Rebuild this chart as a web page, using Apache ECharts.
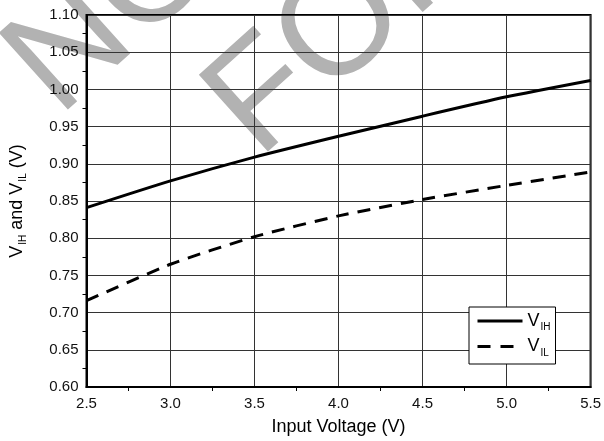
<!DOCTYPE html>
<html>
<head>
<meta charset="utf-8">
<script src="https://cdn.jsdelivr.net/npm/echarts@6/dist/echarts.min.js"></script>
<style>
  html, body { margin: 0; padding: 0; background: #fff; }
  #main { width: 604px; height: 441px; }
</style>
</head>
<body>
<div id="main"></div>
<script>
// input voltage (V)
var vin = [2.5, 3.0, 3.5, 4.0, 4.5, 5.0, 5.5];
// threshold levels (V)
var vih = [0.841, 0.877, 0.909, 0.937, 0.964, 0.990, 1.012];
var vil = [0.716, 0.765, 0.802, 0.830, 0.852, 0.871, 0.889];
var seriesNames = ['VIH', 'VIL'];
var subs = { VIH: 'IH', VIL: 'IL' };

var FONT = '"Liberation Sans", Arial, sans-serif';
var WM_ANGLE = 42 * Math.PI / 180;

function zip(xs, ys) {
	var out = [];
	for (var i = 0; i < xs.length; i++) out.push([xs[i], ys[i]]);
	return out;
}

window.onload = () => {
	var myChart = echarts.init(document.getElementById('main'));

	var option = {
		animation: false,
		backgroundColor: '#fff',
		textStyle: { fontFamily: FONT },
		// watermark behind the grid
		graphic: [
			{
				type: 'text', z: -10, x: 31, y: 87, rotation: WM_ANGLE,
				style: { text: 'NOT RECOMMENDED', fill: '#b2b2b2', font: '150px ' + FONT, align: 'left', verticalAlign: 'middle' }
			},
			{
				type: 'text', z: -10, x: 231, y: 129, rotation: WM_ANGLE,
				style: { text: 'FOR NEW DESIGNS', fill: '#b2b2b2', font: '150px ' + FONT, align: 'left', verticalAlign: 'middle' }
			}
		],
		grid: {
			left: 86, right: 10, top: 15, bottom: 54,
			show: true, borderColor: '#000', borderWidth: 2, backgroundColor: 'transparent'
		},
		legend: {
			orient: 'vertical',
			left: 469, top: 307,
			padding: [5, 5, 6, 7],
			itemGap: 5,
			itemWidth: 45, itemHeight: 20,
			backgroundColor: '#fff',
			borderColor: '#000', borderWidth: 1,
			itemStyle: { opacity: 0, borderWidth: 0 },
			data: [
				{ name: seriesNames[0], lineStyle: { width: 3, color: '#000' } },
				{ name: seriesNames[1], lineStyle: { width: 3, color: '#000', type: [13, 10] } }
			],
			formatter: function (name) { return '{v|V}{s|' + subs[name] + '}'; },
			textStyle: {
				fontFamily: FONT,
				rich: {
					v: { fontSize: 18, color: '#000', fontFamily: FONT },
					s: { fontSize: 10, color: '#000', fontFamily: FONT, padding: [13, 0, 0, 1] }
				}
			}
		},
		xAxis: {
			type: 'value', min: 2.5, max: 5.5, interval: 0.5,
			name: 'Input Voltage (V)', nameLocation: 'middle', nameGap: 31,
			nameTextStyle: { fontSize: 18, color: '#000', fontFamily: FONT },
			axisLine: { lineStyle: { color: '#000', width: 2 } },
			axisTick: { show: false },
			minorTick: { show: true, splitNumber: 2, length: 4, lineStyle: { color: '#000' } },
			axisLabel: {
				fontSize: 15, color: '#111', margin: 9, fontFamily: FONT,
				formatter: function (v) { return v.toFixed(1); }
			},
			splitLine: { show: true, lineStyle: { color: '#333', width: 1 } }
		},
		yAxis: {
			type: 'value', min: 0.6, max: 1.1, interval: 0.05,
			name: '{v|V}{s|IH}{v| and V}{s|IL}{v| (V)}',
			nameLocation: 'middle', nameGap: 58, nameRotate: 90,
			nameTextStyle: {
				fontFamily: FONT,
				rich: {
					v: { fontSize: 18, color: '#000', fontFamily: FONT },
					s: { fontSize: 10, color: '#000', fontFamily: FONT, padding: [13, 0, 0, 1] }
				}
			},
			axisLine: { lineStyle: { color: '#000', width: 2 } },
			axisTick: { show: false },
			minorTick: { show: true, splitNumber: 2, length: 4, lineStyle: { color: '#000' } },
			axisLabel: {
				fontSize: 15, color: '#111', margin: 8, fontFamily: FONT,
				formatter: function (v) { return v.toFixed(2); }
			},
			splitLine: { show: true, lineStyle: { color: '#333', width: 1 } }
		},
		series: [
			{
				name: 'VIH', type: 'line', data: zip(vin, vih),
				symbol: 'none', smooth: 0.2,
				lineStyle: { color: '#000', width: 3 },
				itemStyle: { color: '#000' }
			},
			{
				name: 'VIL', type: 'line', data: zip(vin, vil),
				symbol: 'none', smooth: 0.2,
				lineStyle: { color: '#000', width: 3, type: [13, 9] },
				itemStyle: { color: '#000' }
			}
		]
	};

	myChart.setOption(option);
};
</script>
</body>
</html>
